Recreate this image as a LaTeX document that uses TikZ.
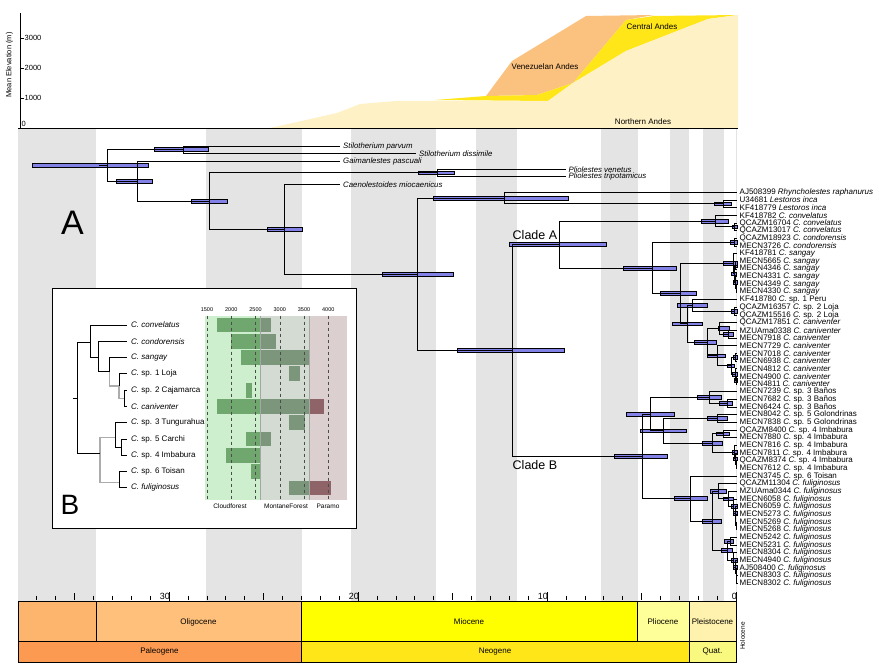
\documentclass[tikz,border=0pt]{standalone}
\usepackage{fontspec}
\setmainfont{Liberation Sans}
\usetikzlibrary{calc}
\pgfdeclarelayer{back}
\pgfdeclarelayer{bars}
\pgfsetlayers{back,bars,main}

\definecolor{band}{HTML}{E4E4E4}
\definecolor{hpdblue}{HTML}{8282E6}
\definecolor{northern}{HTML}{FFF1C6}
\definecolor{central}{HTML}{FFE619}
\definecolor{venez}{HTML}{FBC17E}
\definecolor{cloudbg}{HTML}{CDEFCD}
\definecolor{montbg}{HTML}{D3DBD3}
\definecolor{parabg}{HTML}{DCCFCF}
\definecolor{cloudbar}{HTML}{6FA76F}
\definecolor{montbar}{HTML}{7B967B}
\definecolor{parabar}{HTML}{8F6468}
\definecolor{eocene}{HTML}{FDB46C}
\definecolor{oligocene}{HTML}{FEC07A}
\definecolor{miocene}{HTML}{FFFF00}
\definecolor{pliocene}{HTML}{FFFF99}
\definecolor{pleistocene}{HTML}{FFF2AE}
\definecolor{paleogene}{HTML}{FD9A52}
\definecolor{neogene}{HTML}{FFE619}
\definecolor{quaternary}{HTML}{F9F97F}

\tikzset{
  br/.style={line width=0.9pt},
  lowsup/.style={line width=1.4pt, draw=gray!65},
  hpd/.style={fill=hpdblue, draw=black, line width=0.7pt},
  tiplab/.style={anchor=west, inner sep=0pt, font=\fontsize{8}{8}\selectfont},
  fossil/.style={anchor=west, inner sep=0pt, font=\fontsize{7.8}{8}\selectfont\itshape},
  elev/.style={inner sep=0pt, font=\fontsize{7.5}{8}\selectfont},
  ep/.style={draw=black, line width=0.6pt},
  eplab/.style={font=\fontsize{8}{8}\selectfont},
  zonelab/.style={font=\fontsize{6.5}{7}\selectfont},
  biglab/.style={inner sep=0pt, font=\fontsize{34}{34}\selectfont},
  cladelab/.style={anchor=base west, inner sep=0pt, font=\fontsize{12.5}{13}\selectfont},
}

% node at x, half way between two children, with its elbows
\newcommand\clade[4]{%
  \path let \p1=(#3), \p2=(#4) in ({#2pt},{0.5*(\y1+\y2)}) coordinate (#1);
  \draw[br] (#1) |- (#3) (#1) |- (#4);}
% age interval bar of a node
\newcommand\hpd[3]{%
  \begin{pgfonlayer}{bars}
    \draw[hpd] let \p1=(#1) in ({#2pt},{\y1-1.9pt}) rectangle ({#3pt},{\y1+1.9pt});
  \end{pgfonlayer}}

\begin{document}
\begin{tikzpicture}[x=1pt,y=-1pt]
\useasboundingbox (0,0) rectangle (879,671);

% shaded time bands
\begin{pgfonlayer}{back}
  \foreach \a/\b in {18/96, 206/302, 351/436, 476/517, 601/638, 670/689, 703/724, 735.5/737}
    \fill[band] (\a,129) rectangle (\b,601);
\end{pgfonlayer}

% mean elevation of the Andes
\fill[venez] (486,96) -- (512,61) -- (586,16) -- (654,15) -- (626,20) -- (573,83) -- (537,95) -- cycle;
\fill[central] (435,100) -- (486,96) -- (537,95) -- (573,83) -- (626,20) -- (654,16) -- (738,15)
  -- (708,19) -- (626,51) -- (573,83) -- (548,101) -- cycle;
\fill[northern] (270,128) -- (337,113) -- (360,104) -- (396,101) -- (548,101) -- (573,83)
  -- (626,51) -- (708,19) -- (738,15) -- (738,128) -- cycle;
\node[eplab] (venlab) at (545,67) {Venezuelan Andes};
\node[eplab] (cenlab) at (652,27) {Central Andes};
\node[eplab] (norlab) at (643,122) {Northern Andes};
\draw[line width=0.6pt] (18,128) -- (738,128);
\draw[line width=0.6pt] (20,13) -- (20,128);
\foreach \e in {1,2,3} {
  \draw[line width=0.6pt] (20,{128-30*\e}) -- (24,{128-30*\e});
  \node[elev, anchor=west] (ev\e) at (24.5,{128-30*\e}) {\e000};
}
\node[elev, anchor=west] (ev0) at (21.5,124) {0};
\node[elev, rotate=90] (elevlab) at (9.5,65) {Mean Elevation (m)};

% tips of the living taxa
\foreach \i/\txt in {
  0/{AJ508399 \textit{Rhyncholestes raphanurus}}, 1/{U34681 \textit{Lestoros inca}},
  2/{KF418779 \textit{Lestoros inca}}, 3/{KF418782 \textit{C. convelatus}},
  4/{QCAZM16704 \textit{C. convelatus}}, 5/{QCAZM13017 \textit{C. convelatus}},
  6/{QCAZM18923 \textit{C. condorensis}}, 7/{MECN3726 \textit{C. condorensis}},
  8/{KF418781 \textit{C. sangay}}, 9/{MECN5665 \textit{C. sangay}},
  10/{MECN4346 \textit{C. sangay}}, 11/{MECN4331 \textit{C. sangay}},
  12/{MECN4349 \textit{C. sangay}}, 13/{MECN4330 \textit{C. sangay}},
  14/{KF418780 \textit{C.} sp. 1 Peru}, 15/{QCAZM16357 \textit{C.} sp. 2 Loja},
  16/{QCAZM15516 \textit{C.} sp. 2 Loja}, 17/{QCAZM17851 \textit{C. caniventer}},
  18/{MZUAma0338 \textit{C. caniventer}}, 19/{MECN7918 \textit{C. caniventer}},
  20/{MECN7729 \textit{C. caniventer}}, 21/{MECN7018 \textit{C. caniventer}},
  22/{MECN6938 \textit{C. caniventer}}, 23/{MECN4812 \textit{C. caniventer}},
  24/{MECN4900 \textit{C. caniventer}}, 25/{MECN4811 \textit{C. caniventer}},
  26/{MECN7239 \textit{C.} sp. 3 Baños}, 27/{MECN7682 \textit{C.} sp. 3 Baños},
  28/{MECN6424 \textit{C.} sp. 3 Baños}, 29/{MECN8042 \textit{C.} sp. 5 Golondrinas},
  30/{MECN7838 \textit{C.} sp. 5 Golondrinas}, 31/{QCAZM8400 \textit{C.} sp. 4 Imbabura},
  32/{MECN7880 \textit{C.} sp. 4 Imbabura}, 33/{MECN7816 \textit{C.} sp. 4 Imbabura},
  34/{MECN7811 \textit{C.} sp. 4 Imbabura}, 35/{QCAZM8374 \textit{C.} sp. 4 Imbabura},
  36/{MECN7612 \textit{C.} sp. 4 Imbabura}, 37/{MECN3745 \textit{C.} sp. 6 Toisan},
  38/{QCAZM11304 \textit{C. fuliginosus}}, 39/{MZUAma0344 \textit{C. fuliginosus}},
  40/{MECN6058 \textit{C. fuliginosus}}, 41/{MECN6059 \textit{C. fuliginosus}},
  42/{MECN5273 \textit{C. fuliginosus}}, 43/{MECN5269 \textit{C. fuliginosus}},
  44/{MECN5268 \textit{C. fuliginosus}}, 45/{MECN5242 \textit{C. fuliginosus}},
  46/{MECN5231 \textit{C. fuliginosus}}, 47/{MECN8304 \textit{C. fuliginosus}},
  48/{MECN4940 \textit{C. fuliginosus}}, 49/{AJ508400 \textit{C. fuliginosus}},
  50/{MECN8303 \textit{C. fuliginosus}}, 51/{MECN8302 \textit{C. fuliginosus}}} {
  \coordinate (t\i) at (737,{192.3+7.67*\i});
  \node[tiplab] (lab\i) at (739.5,{192.3+7.67*\i}) {\txt};
}

% fossil tips
\coordinate (fp) at (340,146);
\coordinate (fd) at (416,153.3);
\coordinate (fg) at (340,161.7);
\coordinate (fv) at (566,169.3);
\coordinate (ft) at (566,176.3);
\coordinate (fc) at (340,184.3);
\node[fossil] (fplab) at (343,146) {Stilotherium parvum};
\node[fossil] (fdlab) at (419,153.3) {Stilotherium dissimile};
\node[fossil] (fglab) at (343,161.7) {Gaimanlestes pascuali};
\node[fossil] (fvlab) at (568.5,169.3) {Pliolestes venetus};
\node[fossil] (ftlab) at (568.5,176.3) {Pliolestes tripotamicus};
\node[fossil] (fclab) at (343,184.3) {Caenolestoides miocaenicus};

% Rhyncholestes + Lestoros
\clade{les}{723}{t1}{t2} \hpd{les}{714}{731}
\clade{rhy}{504}{t0}{les} \hpd{rhy}{433}{568}
% clade A
\clade{cv2}{734}{t4}{t5} \hpd{cv2}{732}{737}
\clade{cv}{715}{t3}{cv2} \hpd{cv}{701}{728}
\clade{cd}{734}{t6}{t7} \hpd{cd}{730}{737}
\clade{sg4}{736}{t12}{t13}
\clade{sg3}{735.5}{t11}{sg4} \hpd{sg3}{733}{737}
\clade{sg2a}{735.5}{t9}{t10} \hpd{sg2a}{733}{737}
\clade{sg2}{734.5}{sg2a}{sg3} \hpd{sg2}{731}{736}
\clade{sg}{733}{t8}{sg2} \hpd{sg}{723}{737}
\clade{lj}{734}{t15}{t16} \hpd{lj}{731}{737}
\clade{n4}{692}{t14}{lj} \hpd{n4}{677}{707}
\clade{cn2}{728}{t18}{t19} \hpd{cn2}{723}{733}
\clade{cn1}{719}{t17}{cn2} \hpd{cn1}{718}{729}
\clade{cn3a}{735}{t21}{t22} \hpd{cn3a}{733}{737}
\clade{cn3c}{736}{t24}{t25} \hpd{cn3c}{734}{737}
\clade{cn3b}{735}{t23}{cn3c} \hpd{cn3b}{732}{737}
\clade{cn3}{731}{cn3a}{cn3b} \hpd{cn3}{727}{734}
\clade{n6}{717}{t20}{cn3} \hpd{n6}{707}{725}
\clade{n5}{707}{cn1}{n6} \hpd{n5}{694}{716}
\clade{n3}{687}{n4}{n5} \hpd{n3}{672}{702}
\clade{n2}{680}{sg}{n3} \hpd{n2}{660}{696}
\clade{n1}{652}{cd}{n2} \hpd{n1}{623}{676}
\clade{ca}{559}{cv}{n1} \hpd{ca}{509}{606}
% clade B
\clade{bn2}{727}{t27}{t28} \hpd{bn2}{719}{732}
\clade{bn}{709}{t26}{bn2} \hpd{bn}{697}{721}
\clade{go}{717}{t29}{t30} \hpd{go}{707}{727}
\clade{im1}{723}{t31}{t32} \hpd{im1}{716}{729}
\clade{im4}{736}{t35}{t36}
\clade{im3}{735}{t34}{im4} \hpd{im3}{733}{737}
\clade{im2}{734}{t33}{im3} \hpd{im2}{732}{737}
\clade{im}{712}{im1}{im2} \hpd{im}{702}{722}
\clade{n9}{663}{go}{im} \hpd{n9}{640}{686}
\clade{n7}{650}{bn}{n9} \hpd{n7}{626}{674}
\clade{f1e}{736}{t43}{t44}
\clade{f1d}{735.5}{t42}{f1e}
\clade{f1c}{735}{t41}{f1d} \hpd{f1c}{733}{737}
\clade{f1b}{733}{t40}{f1c} \hpd{f1b}{731}{737}
\clade{f1a}{728}{t39}{f1b} \hpd{f1a}{723}{733}
\clade{f1}{718}{t38}{f1a} \hpd{f1}{710}{726}
\clade{f2a}{730}{t45}{t46} \hpd{f2a}{724}{733}
\clade{f2e}{736.5}{t50}{t51}
\clade{f2d}{736}{t49}{f2e}
\clade{f2c}{735}{t48}{f2d} \hpd{f2c}{733}{737}
\clade{f2b}{733}{t47}{f2c} \hpd{f2b}{731}{737}
\clade{f2}{727}{f2a}{f2b} \hpd{f2}{721}{732}
\clade{fu}{712}{f1}{f2} \hpd{fu}{702}{721}
\clade{n10}{690}{t37}{fu} \hpd{n10}{674}{707}
\clade{nb}{642}{n7}{n10} \hpd{nb}{614}{667}
% Caenolestes and the fossils
\clade{cae}{512}{ca}{nb} \hpd{cae}{457}{564}
\clade{kk}{417}{rhy}{cae} \hpd{kk}{382}{453}
\clade{c1}{284}{fc}{kk} \hpd{c1}{267}{302}
\clade{pli}{437}{fv}{ft} \hpd{pli}{418}{454}
\clade{p1}{209}{pli}{c1} \hpd{p1}{191}{227}
\clade{g1}{137}{fg}{p1} \hpd{g1}{116}{152}
\clade{sti}{183}{fp}{fd} \hpd{sti}{154}{208}
\clade{root}{107}{sti}{g1} \hpd{root}{32}{148}
\draw[br] (root) -- ++(-8,0) coordinate (rootstub);

\node[cladelab] (cladeA) at (512.5,239.5) {Clade A};
\node[cladelab] (cladeB) at (512.5,469.3) {Clade B};
\node[biglab] (panelA) at (72.5,222.5) {A};

% inset B: elevation ranges
\draw[fill=white, line width=0.8pt] (52.5,288) rectangle (356.5,528.5);
\node[biglab, font=\fontsize{28}{28}\selectfont] (panelB) at (70,505) {B};
\fill[cloudbg] (205,315.7) rectangle (260.7,500);
\fill[montbg] (260.7,315.7) rectangle (309,500);
\fill[parabg] (309,315.7) rectangle (346.7,500);
\foreach \zc/\zl/\zr in {cloudbar/205/260.7, montbar/260.7/309, parabar/309/346.7} {
  \begin{scope}
    \clip (\zl,315.7) rectangle (\zr,500);
    \foreach \k/\lo/\hi in {0/216.7/270.7, 1/231/276, 2/240.7/310, 3/289/300, 4/246/252,
        5/216.7/324, 6/289/305, 7/246/270.7, 8/226/260.7, 9/251/260.7, 10/289/331}
      \fill[\zc] (\lo,{325+16.29*\k-7.4}) rectangle (\hi,{325+16.29*\k+7.4});
  \end{scope}
}
\draw[gray!70, line width=0.6pt] (260.7,315.7) -- (260.7,500) (309,315.7) -- (309,500);
\foreach \m [count=\j from 0] in {1500,2000,2500,3000,3500,4000} {
  \draw[gray!60!black, dashed, line width=0.5pt] ({207+24.25*\j},315.7) -- ({207+24.25*\j},500);
  \node[elev, font=\fontsize{5.5}{6}\selectfont] (alt\j) at ({207+24.25*\j},310) {\m};
}
\node[zonelab] (zcloud) at (230,506) {Cloudforest};
\node[zonelab] (zmont) at (286,506) {MontaneForest};
\node[zonelab] (zpara) at (328,506) {Paramo};

\foreach \k/\txt in {0/\textit{C. convelatus}, 1/\textit{C. condorensis}, 2/\textit{C. sangay},
    3/{\textit{C.} sp. 1 Loja}, 4/{\textit{C.} sp. 2 Cajamarca}, 5/\textit{C. caniventer},
    6/{\textit{C.} sp. 3 Tungurahua}, 7/{\textit{C.} sp. 5 Carchi}, 8/{\textit{C.} sp. 4 Imbabura},
    9/{\textit{C.} sp. 6 Toisan}, 10/\textit{C. fuliginosus}} {
  \coordinate (bt\k) at (127,{325+16.29*\k});
  \node[tiplab] (blab\k) at (131,{325+16.29*\k}) {\txt};
}
\coordinate (bstub) at (72.7,398);
\coordinate (bR) at (77.3,398);
\coordinate (bA) at (90.7,342.3);
\coordinate (bA1) at (98.7,357.7);
\coordinate (bA2) at (109.3,371.5);
\coordinate (bA3) at (119,386);
\coordinate (bA4) at (124,398.3);
\coordinate (bB) at (100,453.3);
\coordinate (bB1) at (115,437.7);
\coordinate (bB1a) at (121,447.2);
\coordinate (bB2) at (119,482.7);
\draw[lowsup] (bA2) |- (bA3) (bA3) |- (bA4);
\draw[lowsup] (bB) |- (bB1) (bB) |- (bB2);
\draw[br] (bstub) -- (bR) (bR) |- (bA) (bR) |- (bB);
\draw[br] (bA) |- (bt0) (bA) |- (bA1) (bA1) |- (bt1) (bA1) |- (bA2) (bA2) |- (bt2);
\draw[br] (bA3) |- (bt3) (bA4) |- (bt4) (bA4) |- (bt5);
\draw[br] (bB1) |- (bt6) (bB1) |- (bB1a) (bB1a) |- (bt7) (bB1a) |- (bt8);
\draw[br] (bB2) |- (bt9) (bB2) |- (bt10);

% time axis
\foreach \t in {0,...,37}
  \draw[line width=0.5pt] ({736-18.9*\t},595.5) -- ({736-18.9*\t},600);
\foreach \t in {5,15,25,35}
  \draw[line width=0.6pt] ({736-18.9*\t},593) -- ({736-18.9*\t},600);
\foreach \t in {0,10,20,30} {
  \draw[line width=0.8pt] ({736-18.9*\t},592) -- ({736-18.9*\t},600.5);
  \node[anchor=east, inner sep=0pt, font=\fontsize{9}{9}\selectfont] (ma\t) at ({737-18.9*\t},596.5) {\t};
}

% epochs and periods
\draw[ep, fill=eocene] (18,601) rectangle (96,641);
\draw[ep, fill=oligocene] (96,601) rectangle (301,641);
\draw[ep, fill=miocene] (301,601) rectangle (637,641);
\draw[ep, fill=pliocene] (637,601) rectangle (689,641);
\draw[ep, fill=pleistocene] (689,601) rectangle (736,641);
\draw[ep, fill=paleogene] (18,641) rectangle (301,662);
\draw[ep, fill=neogene] (301,641) rectangle (689,662);
\draw[ep, fill=quaternary] (689,641) rectangle (736,662);
\node[eplab] (oligo) at (198.5,622) {Oligocene};
\node[eplab] (mio) at (469,622) {Miocene};
\node[eplab] (plio) at (663,622) {Pliocene};
\node[eplab] (pleisto) at (712.5,622) {Pleistocene};
\node[eplab, rotate=90, font=\fontsize{6.5}{7}\selectfont] (holo) at (742.5,636) {Holocene};
\node[eplab] (paleo) at (159.5,651.5) {Paleogene};
\node[eplab] (neo) at (495,651.5) {Neogene};
\node[eplab] (quat) at (712.5,651.5) {Quat.};
\end{tikzpicture}
\end{document}
